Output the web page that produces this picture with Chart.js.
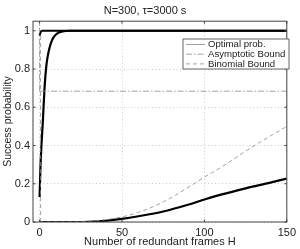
<!DOCTYPE html>
<html>
<head>
<meta charset="utf-8">
<script src="https://cdn.jsdelivr.net/npm/chart.js@4.4.0/dist/chart.umd.min.js"></script>
<style>
  html, body { margin: 0; padding: 0; background: #fff; }
  #wrap { width: 300px; height: 249px; }
</style>
</head>
<body>
<div id="wrap"><canvas id="grafico"></canvas></div>
<script>
// tick labels
const xTicks = [0, 50, 100, 150];
const yTicks = [0, 0.2, 0.4, 0.6, 0.8, 1];

// optimal probability, three cases
const hFast = [0, 0.5, 1.5, 150];
const pFast = [0.975, 0.99, 1, 1];

const hMid = [0, 0.5, 1, 2, 3, 4, 5, 6, 7.5, 9, 11, 14, 18, 150];
const pMid = [0.13, 0.28, 0.38, 0.53, 0.70, 0.81, 0.87, 0.91, 0.95, 0.972, 0.988, 0.997, 1, 1];

const hSlow = [0, 20, 30, 40, 50, 60, 75, 90, 100, 110, 125, 140, 150];
const pSlow = [0, 0, 0.001, 0.006, 0.016, 0.03, 0.055, 0.09, 0.118, 0.143, 0.176, 0.206, 0.227];

// bounds
const hBin = [0, 20, 30, 40, 50, 60, 75, 90, 100, 110, 125, 140, 150];
const pBin = [0, 0.001, 0.004, 0.012, 0.027, 0.05, 0.105, 0.18, 0.235, 0.285, 0.37, 0.45, 0.5];

const hBinMid = [0.6, 0.6];
const pBinMid = [0, 0.98];

const hAsy = [0, 150];
const pAsy = [0.684, 0.684];

const hAsyFast = [0, 0];
const pAsyFast = [0.684, 1.05];

const legendLabels = ['Optimal prob.', 'Asymptotic Bound', 'Binomial Bound'];

function pts(xs, ys) {
    return xs.map((x, i) => ({ x: x, y: ys[i] }));
}

const cinza = '#8a8a8a';
const tracoDash = [4, 3];
const tracoPonto = [6, 2, 1.5, 2];
const fonte = '"Liberation Sans", Arial, sans-serif';

function linha(xs, ys, cor, largura, dash) {
    return {
        data: pts(xs, ys),
        borderColor: cor,
        borderWidth: largura,
        borderDash: dash || [],
        pointRadius: 0,
        fill: false,
        cubicInterpolationMode: 'monotone'
    };
}

// box, inward ticks and legend
const moldura = {
    id: 'moldura',
    afterDatasetsDraw(chart) {
        const ctx = chart.ctx;
        const a = chart.chartArea;
        const sx = chart.scales.x, sy = chart.scales.y;
        ctx.save();
        ctx.strokeStyle = '#444';
        ctx.lineWidth = 1;
        ctx.strokeRect(a.left, a.top, a.right - a.left, a.bottom - a.top);
        ctx.beginPath();
        xTicks.forEach(t => {
            const px = sx.getPixelForValue(t);
            ctx.moveTo(px, a.bottom); ctx.lineTo(px, a.bottom - 2.5);
            ctx.moveTo(px, a.top); ctx.lineTo(px, a.top + 2.5);
        });
        yTicks.forEach(t => {
            const py = sy.getPixelForValue(t);
            ctx.moveTo(a.left, py); ctx.lineTo(a.left + 2.5, py);
            ctx.moveTo(a.right, py); ctx.lineTo(a.right - 2.5, py);
        });
        ctx.stroke();

        // legend
        const lx = 183, ly = 39, lw = 106, lh = 30;
        ctx.fillStyle = '#fff';
        ctx.fillRect(lx, ly, lw, lh);
        ctx.strokeStyle = '#666';
        ctx.strokeRect(lx, ly, lw, lh);
        const estilos = [[], tracoPonto, tracoDash];
        ctx.font = '9.6px ' + fonte;
        ctx.textBaseline = 'middle';
        legendLabels.forEach((txt, i) => {
            const yy = ly + 5.5 + i * 9.7;
            ctx.strokeStyle = cinza;
            ctx.lineWidth = 0.8;
            ctx.setLineDash(estilos[i]);
            ctx.beginPath();
            ctx.moveTo(lx + 3, yy); ctx.lineTo(lx + 22, yy);
            ctx.stroke();
            ctx.setLineDash([]);
            ctx.fillStyle = '#222';
            ctx.fillText(txt, lx + 25, yy);
        });
        ctx.restore();
    }
};

window.addEventListener('DOMContentLoaded', () => {
    const ctx = document.getElementById('grafico').getContext('2d');
    new Chart(ctx, {
        type: 'line',
        data: {
            datasets: [
                linha(hAsyFast, pAsyFast, cinza, 0.8, tracoPonto),
                linha(hBinMid, pBinMid, cinza, 0.8, tracoDash),
                linha(hAsy, pAsy, cinza, 0.8, tracoPonto),
                linha(hBin, pBin, cinza, 0.8, tracoDash),
                linha(hFast, pFast, '#000', 2.2),
                linha(hMid, pMid, '#000', 2.2),
                linha(hSlow, pSlow, '#000', 2.2)
            ]
        },
        options: {
            responsive: true,
            maintainAspectRatio: false,
            animation: false,
            layout: { padding: { left: 0, right: 10, top: 0, bottom: 0 } },
            plugins: {
                legend: { display: false },
                tooltip: { enabled: false },
                title: {
                    display: true,
                    text: 'N=300, \u03c4=3000 s',
                    color: '#222',
                    font: { family: fonte, size: 11, weight: 'normal' },
                    padding: { top: 4, bottom: 4 }
                }
            },
            scales: {
                x: {
                    type: 'linear',
                    min: -4,
                    max: 150,
                    afterBuildTicks: s => { s.ticks = xTicks.map(v => ({ value: v })); },
                    afterFit: s => { s.height = 27; },
                    grid: { color: '#cacaca', lineWidth: 1, drawTicks: false },
                    border: { display: false, dash: [1, 2.5] },
                    ticks: {
                        color: '#222',
                        padding: 4,
                        maxRotation: 0,
                        callback: v => String(v),
                        font: { family: fonte, size: 11 }
                    },
                    title: {
                        display: true,
                        text: 'Number of redundant frames H',
                        color: '#222',
                        padding: { top: 0, bottom: 0 },
                        font: { family: fonte, size: 11 }
                    }
                },
                y: {
                    min: 0,
                    max: 1.05,
                    afterBuildTicks: s => { s.ticks = yTicks.map(v => ({ value: v })); },
                    afterFit: s => { s.width = 33; },
                    grid: { color: '#cacaca', lineWidth: 1, drawTicks: false },
                    border: { display: false, dash: [1, 2.5] },
                    ticks: {
                        color: '#222',
                        padding: 3,
                        callback: v => String(v),
                        font: { family: fonte, size: 11 }
                    },
                    title: {
                        display: true,
                        text: 'Success probability',
                        color: '#222',
                        padding: { top: 2, bottom: 0 },
                        font: { family: fonte, size: 10.5 }
                    }
                }
            }
        },
        plugins: [moldura]
    });
});
</script>
</body>
</html>
